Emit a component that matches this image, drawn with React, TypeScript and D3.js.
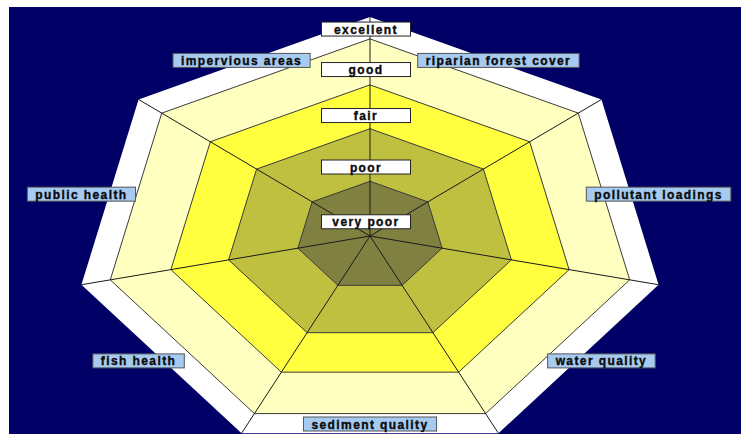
import React, { useEffect, useRef } from "react";
import * as d3 from "d3";

// categories, clockwise starting from the first edge right of the top axis
const categories = [
  "riparian forest cover",
  "pollutant loadings",
  "water quality",
  "sediment quality",
  "fish health",
  "public health",
  "impervious areas",
];

// rating rings, inside out
const levelNames = ["very poor", "poor", "fair", "good", "excellent"];
const levelValues = [25, 49, 69, 90, 100];
const levelLabelValues = [6.5, 31.5, 55, 76, 94.5];
const levelColors = ["#808040", "#c0c040", "#ffff40", "#ffffc0", "#ffffff"];

const W = 741;
const H = 434;

const App = () => {
  const svgRef = useRef<SVGSVGElement>(null);

  useEffect(() => {
    const svg = d3.select(svgRef.current);
    svg.selectAll("*").remove();

    const cx = 370;
    const cy = 236;
    const n = categories.length;
    const step = (2 * Math.PI) / n;

    // the plot is stretched horizontally, so two radial scales
    const ry = d3.scaleLinear().domain([0, 100]).range([0, 219]);
    const rx = d3.scaleLinear().domain([0, 100]).range([0, 296]);

    const pt = (v: number, a: number): [number, number] => [
      cx + rx(v) * Math.sin(a),
      cy - ry(v) * Math.cos(a),
    ];

    svg
      .append("rect")
      .attr("x", 9)
      .attr("y", 7)
      .attr("width", W - 9)
      .attr("height", H - 7)
      .attr("fill", "#000066");

    const vertexAngles = d3.range(n).map((i) => i * step);
    const line = d3.line();

    const rings = levelValues.map((v, i) => ({ v, color: levelColors[i], i })).reverse();

    svg
      .selectAll(".ring")
      .data(rings)
      .join("path")
      .attr("class", "ring")
      .attr("d", (d) => line(vertexAngles.map((a) => pt(d.v, a))) + "Z")
      .attr("fill", (d) => d.color)
      .attr("stroke", (d) => (d.i === levelValues.length - 1 ? "none" : "#3a3a3a"))
      .attr("stroke-width", 1);

    svg
      .selectAll(".spoke")
      .data(vertexAngles)
      .join("line")
      .attr("class", "spoke")
      .attr("x1", cx)
      .attr("y1", cy)
      .attr("x2", (a) => pt(100, a)[0])
      .attr("y2", (a) => pt(100, a)[1])
      .attr("stroke", "#1a1a1a")
      .attr("stroke-width", 1);

    const font = "'Liberation Sans', Arial, sans-serif";

    // level labels along the top axis
    const lv = svg
      .selectAll(".lvl")
      .data(levelNames.map((name, i) => ({ name, v: levelLabelValues[i] })))
      .join("g")
      .attr("class", "lvl")
      .attr("transform", (d) => `translate(${cx - 4},${cy - ry(d.v)})`);
    lv.append("rect")
      .attr("x", -44.5)
      .attr("y", -7)
      .attr("width", 89)
      .attr("height", 14)
      .attr("fill", "#ffffff")
      .attr("stroke", "#222222")
      .attr("stroke-width", 1);
    lv.append("text")
      .attr("text-anchor", "middle")
      .attr("dy", 4.5)
      .attr("font-family", font)
      .attr("font-weight", "bold")
      .attr("font-size", 12)
      .attr("letter-spacing", 1.4)
      .attr("fill", "#0a0a0a")
      .attr("stroke", "#0a0a0a")
      .attr("stroke-width", 0.35)
      .text((d) => d.name);

    // category labels at the middle of each edge
    const cg = svg
      .selectAll(".cat")
      .data(categories.map((name, i) => ({ name, a: (i + 0.5) * step })))
      .join("g")
      .attr("class", "cat")
      .attr("transform", (d) => {
        const x = cx + rx(100) * Math.sin(d.a);
        const y = Math.min(cy - ry(90) * Math.cos(d.a) + 2, H - 10);
        return `translate(${x},${y})`;
      });
    const rects = cg
      .append("rect")
      .attr("y", -7)
      .attr("height", 14)
      .attr("fill", "#a6caf0")
      .attr("stroke", "#555555")
      .attr("stroke-width", 1);
    const texts = cg
      .append("text")
      .attr("text-anchor", "middle")
      .attr("dy", 4.5)
      .attr("font-family", font)
      .attr("font-weight", "bold")
      .attr("font-size", 12)
      .attr("letter-spacing", 1.4)
      .attr("fill", "#0a0a0a")
      .attr("stroke", "#0a0a0a")
      .attr("stroke-width", 0.35)
      .text((d) => d.name);
    texts.each(function (_, i) {
      const w = (this as SVGTextElement).getComputedTextLength() + 16;
      d3.select(rects.nodes()[i]).attr("x", -w / 2).attr("width", w);
    });
  }, []);

  return (
    <svg
      ref={svgRef}
      width={W}
      height={H}
      style={{ position: "absolute", left: 0, top: 0, display: "block", background: "#fff" }}
    />
  );
};

export default App;
